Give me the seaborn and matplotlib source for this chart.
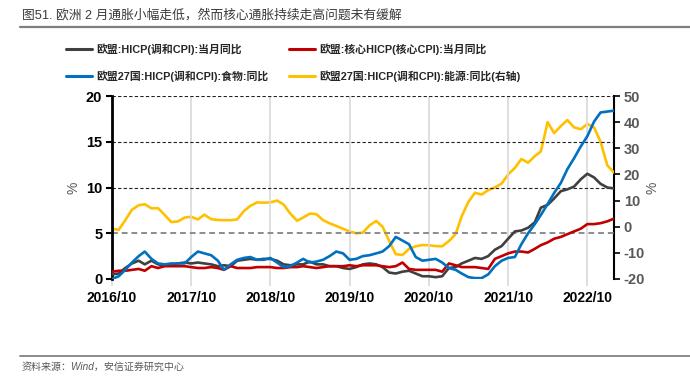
import numpy as np
import pandas as pd
import matplotlib
matplotlib.use("Agg")
import matplotlib.pyplot as plt
import matplotlib.dates as mdates
from matplotlib.lines import Line2D
import seaborn as sns

# ---------------- data ----------------
start_month = "2016-10-01"
n_months = 77
hicp = [0.5, 0.6, 1.2, 1.7, 2.0, 1.6, 2.0, 1.6, 1.5, 1.5, 1.7, 1.8,
        1.7, 1.8, 1.7, 1.6, 1.4, 1.5, 1.4, 2.0, 2.1, 2.2, 2.1, 2.2,
        2.2, 2.0, 1.6, 1.5, 1.6, 1.6, 1.9, 1.6, 1.6, 1.4, 1.4, 1.2,
        1.1, 1.3, 1.6, 1.7, 1.6, 1.3, 0.7, 0.6, 0.8, 0.9, 0.6, 0.3,
        0.3, 0.2, 0.3, 1.2, 1.3, 1.7, 2.0, 2.3, 2.2, 2.5, 3.2, 3.6,
        4.4, 5.2, 5.3, 5.6, 6.2, 7.8, 8.1, 8.8, 9.6, 9.8, 10.1, 10.9,
        11.5, 11.1, 10.4, 10.0, 9.9]
core = [0.8, 0.9, 0.9, 1.0, 1.1, 0.9, 1.4, 1.2, 1.4, 1.4, 1.4, 1.4,
        1.3, 1.2, 1.2, 1.3, 1.2, 1.0, 1.4, 1.2, 1.2, 1.2, 1.3, 1.3,
        1.3, 1.2, 1.2, 1.3, 1.3, 1.4, 1.3, 1.2, 1.3, 1.4, 1.4, 1.4,
        1.5, 1.4, 1.5, 1.5, 1.5, 1.4, 1.3, 1.4, 1.8, 1.1, 1.0, 1.0,
        1.0, 1.0, 0.8, 1.7, 1.5, 1.3, 1.3, 1.3, 1.2, 1.1, 2.2, 2.5,
        2.8, 3.0, 3.0, 2.9, 3.3, 3.7, 4.0, 4.4, 4.6, 4.9, 5.2, 5.5,
        6.0, 6.0, 6.1, 6.3, 6.6]
food = [0.0, 0.3, 1.0, 1.8, 2.5, 3.0, 2.2, 1.7, 1.6, 1.7, 1.7, 1.7,
        2.4, 3.0, 2.8, 2.6, 2.0, 1.0, 1.6, 2.1, 2.3, 2.4, 2.1, 2.1,
        2.3, 1.8, 1.3, 1.4, 1.8, 2.2, 1.8, 1.9, 2.1, 2.5, 3.0, 2.8,
        2.1, 2.2, 2.5, 2.6, 2.8, 3.0, 3.6, 4.6, 4.2, 3.8, 2.4, 2.0,
        2.1, 2.2, 1.8, 1.2, 1.0, 0.6, 0.2, 0.1, 0.1, 0.5, 1.4, 2.0,
        2.3, 2.4, 3.8, 5.0, 6.0, 7.0, 8.2, 9.4, 10.5, 12.0, 13.2, 14.5,
        15.6, 17.2, 18.2, 18.3, 18.4]
energy = [-0.8, -1.2, 2.5, 6.5, 8.2, 8.6, 7.0, 7.1, 4.5, 1.8, 2.0, 3.5,
          3.8, 2.8, 4.6, 2.9, 2.6, 2.5, 2.5, 2.8, 6.0, 8.0, 9.3, 9.2,
          9.3, 10.0, 8.5, 5.0, 2.3, 3.5, 5.0, 4.8, 2.5, 1.3, 0.3, -0.8,
          -1.8, -2.5, -2.3, 0.5, 2.2, 0.0, -5.5, -10.5, -10.8, -8.5, -7.5, -7.0,
          -7.1, -7.4, -7.5, -5.5, -2.8, 4.0, 9.5, 13.0, 12.3, 14.0, 15.0, 16.5,
          20.0, 22.5, 25.9, 24.5, 27.0, 28.8, 40.0, 35.8, 38.5, 40.8, 38.0, 37.3,
          39.3, 38.0, 32.5, 23.5, 20.7]

labels = ["欧盟:HICP(调和CPI):当月同比", "欧盟:核心HICP(核心CPI):当月同比",
          "欧盟27国:HICP(调和CPI):食物:同比", "欧盟27国:HICP(调和CPI):能源:同比(右轴)"]
colors = ["#404040", "#C00000", "#0070C0", "#FFC000"]
left_ticks = [0, 5, 10, 15, 20]
right_ticks = [-20, -10, 0, 10, 20, 30, 40, 50]
x_tick_years = [2016, 2017, 2018, 2019, 2020, 2021, 2022]

title = "图51. 欧洲 2 月通胀小幅走低，然而核心通胀持续走高问题未有缓解"
source = "资料来源：Wind，安信证券研究中心"

dates = pd.date_range(start_month, periods=n_months, freq="MS")
df = pd.DataFrame({"date": dates, "hicp": hicp, "core": core,
                   "food": food, "energy": energy})

# ---------------- style ----------------
sns.set_theme(style="white")
plt.rcParams["font.family"] = ["Liberation Sans", "Noto Sans CJK SC", "DejaVu Sans"]
plt.rcParams["axes.unicode_minus"] = False

fig = plt.figure(figsize=(6.9, 3.77), dpi=100)
ax = fig.add_axes([112 / 690, 1 - 279 / 377, (614 - 112) / 690, (279 - 96) / 377])
ax2 = ax.twinx()

lw = 1.9
sns.lineplot(data=df, x="date", y="hicp", ax=ax, color=colors[0], lw=lw, zorder=4)
sns.lineplot(data=df, x="date", y="core", ax=ax, color=colors[1], lw=lw, zorder=5)
sns.lineplot(data=df, x="date", y="food", ax=ax, color=colors[2], lw=lw, zorder=6)
sns.lineplot(data=df, x="date", y="energy", ax=ax2, color=colors[3], lw=lw, zorder=3)

ax.set_zorder(ax2.get_zorder() + 1)
ax.patch.set_visible(False)

ax.set_xlim(dates[0], dates[-1])
ax.set_ylim(0, 20)
ax2.set_ylim(-20, 50)

# grid lines
for v in [10, 15, 20]:
    ax.axhline(v, color="#222222", lw=0.8, ls=(0, (3, 2)), zorder=1)
ax.axhline(5, color="#8c8c8c", lw=1.4, ls=(0, (3, 2)), zorder=1)
xt = [pd.Timestamp(f"{y}-10-01") for y in x_tick_years]
for t in xt[1:]:
    ax.axvline(t, color="#d9d9d9", lw=1.2, zorder=0)

ax.set_xticks(xt)
ax.set_xticklabels([f"{y}/10" for y in x_tick_years], fontsize=10, fontweight="bold", color="black")
ax.tick_params(axis="x", length=5, width=1.2, color="#d9d9d9", pad=4, bottom=True)

ax.set_yticks(left_ticks)
ax.set_yticklabels([str(v) for v in left_ticks], fontsize=10.5, fontweight="bold", color="black")
ax.tick_params(axis="y", length=4, width=1.5, color="black", left=True, pad=3)

ax2.set_yticks(right_ticks)
ax2.set_yticklabels([str(v) for v in right_ticks], fontsize=10.5, fontweight="bold", color="#595959")
ax2.tick_params(axis="y", length=4, width=1.2, color="black", right=True, pad=3)

ax.set_xlabel("")
ax.set_ylabel("%", fontsize=10, color="#595959", labelpad=4)
ax2.set_ylabel("%", fontsize=10, color="#595959", labelpad=0)

for a in (ax, ax2):
    a.spines["top"].set_visible(False)
    a.spines["bottom"].set_visible(False)
ax.spines["left"].set_color("black")
ax.spines["left"].set_linewidth(2)
ax.spines["right"].set_visible(False)
ax2.spines["left"].set_visible(False)
ax2.spines["right"].set_color("black")
ax2.spines["right"].set_linewidth(1.5)

# legend: two columns placed separately
h = [Line2D([], [], color=c, lw=2.2) for c in colors]
leg_kw = dict(frameon=False, handlelength=2.4, handletextpad=0.35,
              labelspacing=1.45, borderaxespad=0, borderpad=0,
              prop={"weight": "bold", "size": 7.8})
l1 = fig.legend([h[0], h[2]], [labels[0], labels[2]], loc="upper left",
                bbox_to_anchor=(66 / 690, 1 - 43 / 377), **leg_kw)
l2 = fig.legend([h[1], h[3]], [labels[1], labels[3]], loc="upper left",
                bbox_to_anchor=(289 / 690, 1 - 43 / 377), **leg_kw)

# title & footer
fig.text(22 / 690, 1 - 15 / 377, title, fontsize=9.2, color="#3a3a3a",
         va="center", ha="left")
fig.add_artist(Line2D([20 / 690, 1.0], [1 - 27 / 377] * 2, color="#7f7f7f", lw=1.6))
fig.add_artist(Line2D([20 / 690, 1.0], [1 - 356 / 377] * 2, color="#8c8c8c", lw=1.4))
fig.text(22 / 690, 1 - 367 / 377, source, fontsize=7.2, color="#595959",
         va="center", ha="left", style="italic")

fig.savefig("out.png", dpi=100)
